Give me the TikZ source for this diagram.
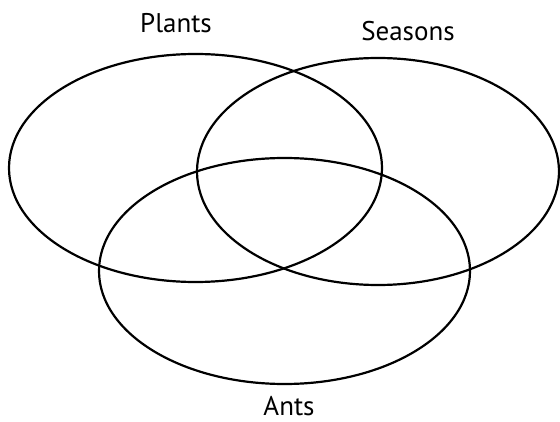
\documentclass[tikz,border=0pt]{standalone}
\usepackage{fontspec}
\setmainfont{PT Sans}
\begin{document}
\begin{tikzpicture}[x=1pt,y=-1pt,
  setring/.style={draw=black,line width=2.2pt,fill=none},
  setlabel/.style={anchor=base,inner sep=0pt,font=\fontsize{27}{30}\selectfont}]
\useasboundingbox (0,0) rectangle (560,422);
\draw[setring] (195.5,168) ellipse [x radius=186.5, y radius=114];
\draw[setring] (378,171.5) ellipse [x radius=181, y radius=113.5];
\draw[setring] (284.5,271) ellipse [x radius=185.5, y radius=113];
\node[setlabel] (plants) at (176,33) {Plants};
\node[setlabel] (seasons) at (408,41) {Seasons};
\node[setlabel] (ants) at (289,415) {Ants};
\end{tikzpicture}
\end{document}
